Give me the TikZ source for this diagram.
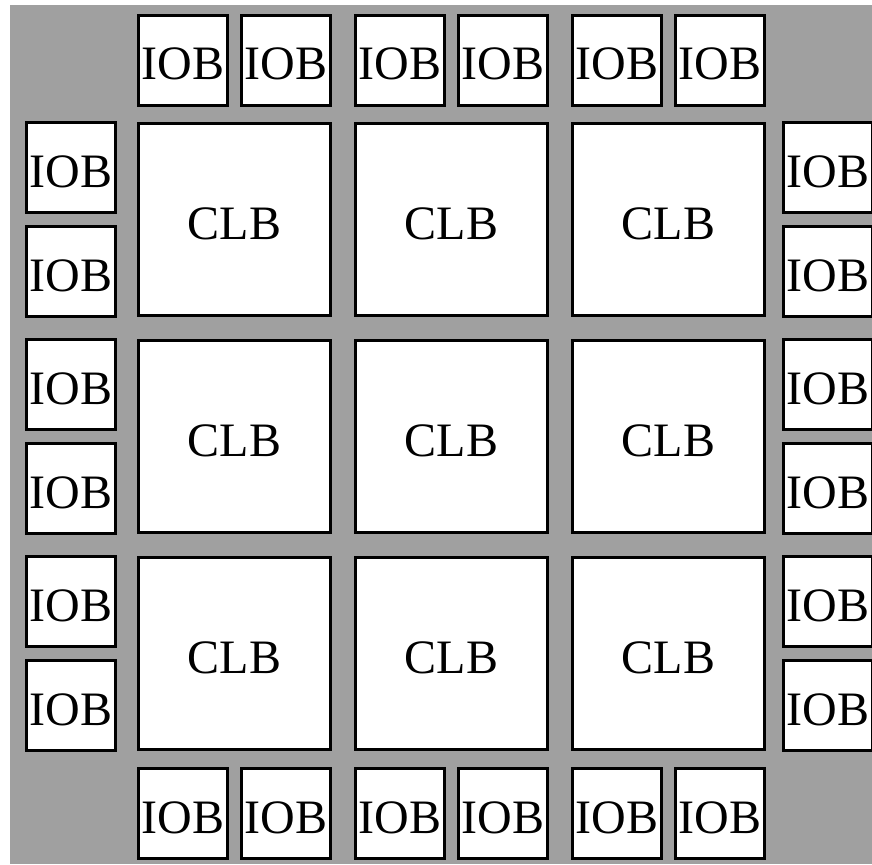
\documentclass[tikz,border=0pt]{standalone}
\usepackage{fontspec}
\setmainfont{Liberation Serif}
\definecolor{bggray}{RGB}{160,160,160}
\begin{document}
\begin{tikzpicture}[x=1pt,y=-1pt,
  blk/.style={draw=black,fill=white,line width=2.6pt,inner sep=0pt,
    font=\fontsize{48}{50}\selectfont,text height=39pt,text depth=0pt},
  iob/.style={blk,minimum width=89.5pt,minimum height=89.5pt},
  clb/.style={blk,minimum width=192.5pt,minimum height=192.5pt}]
\useasboundingbox (0,0) rectangle (872,864);
\fill[bggray] (10,5) rectangle (872,864);
% CLBs
\foreach \c/\x in {1/234.5,2/451.5,3/668.5}{
  \foreach \r/\y in {1/219.5,2/436.5,3/653.5}{
    \node[clb] (clb\r\c) at (\x,\y) {CLB};
  }
}
% top and bottom IOBs
\foreach \i/\x in {1/183,2/286,3/400,4/503,5/617,6/720}{
  \node[iob] (top\i) at (\x,60.5) {IOB};
  \node[iob] (bot\i) at (\x,813.5) {IOB};
}
% left and right IOBs
\foreach \i/\y in {1/167.5,2/271.5,3/384.5,4/488.5,5/601.5,6/705.5}{
  \node[iob] (lft\i) at (71,\y) {IOB};
  \node[iob] (rgt\i) at (828,\y) {IOB};
}
\end{tikzpicture}
\end{document}
